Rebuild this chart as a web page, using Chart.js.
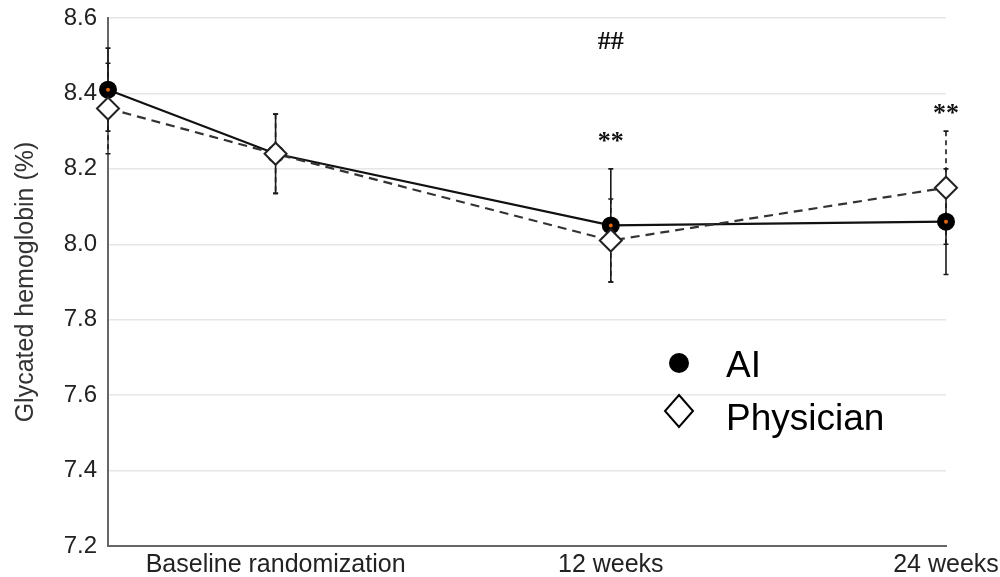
<!DOCTYPE html>
<html>
<head>
<meta charset="utf-8">
<script src="https://cdn.jsdelivr.net/npm/chart.js@4/dist/chart.umd.min.js"></script>
<style>
  html, body { margin: 0; padding: 0; background: #fff; overflow: hidden; }
  #wrap { width: 1000px; height: 577px; position: relative; }
</style>
</head>
<body>
<div id="wrap"><canvas id="hba1c" width="1000" height="577"></canvas></div>
<script>
// weeks relative to randomization
var weeks = [-6, 0, 12, 24];
var xTickWeeks = [0, 12, 24];
var xTickLabels = ["Baseline randomization", "12 weeks", "24 weeks"];

var aiMean = [8.41, 8.24, 8.05, 8.06];
var aiErr = [0.11, 0.105, 0.15, 0.14];
var physMean = [8.36, 8.24, 8.01, 8.15];
var physErr = [0.12, 0.105, 0.11, 0.15];

var seriesNames = ["AI", "Physician"];

// significance marks: [week, y value, text]
var marks = [
	[12, 8.535, "##"],
	[12, 8.28, "**"],
	[24, 8.355, "**"]
];

function toPoints(means) {
	var arr = [];
	for (var i = 0; i < weeks.length; i++) {
		arr.push({x: weeks[i], y: means[i]});
	}
	return arr;
}

/* error bars under the markers */
var errorBars = {
	id: 'errorBars',
	beforeDatasetsDraw: function (chart) {
		var ctx = chart.ctx;
		var xs = chart.scales.x, ys = chart.scales.y;
		var sets = [[aiMean, aiErr, []], [physMean, physErr, [5, 4]]];
		ctx.save();
		ctx.strokeStyle = '#1a1a1a';
		ctx.lineWidth = 1.6;
		for (var s = 0; s < sets.length; s++) {
			for (var i = 0; i < weeks.length; i++) {
				var px = xs.getPixelForValue(weeks[i]);
				var top = ys.getPixelForValue(sets[s][0][i] + sets[s][1][i]);
				var bot = ys.getPixelForValue(sets[s][0][i] - sets[s][1][i]);
				ctx.setLineDash(sets[s][2]);
				ctx.beginPath();
				ctx.moveTo(px, top);
				ctx.lineTo(px, bot);
				ctx.stroke();
				ctx.setLineDash([]);
				ctx.beginPath();
				ctx.moveTo(px - 2.5, top); ctx.lineTo(px + 2.5, top);
				ctx.moveTo(px - 2.5, bot); ctx.lineTo(px + 2.5, bot);
				ctx.stroke();
			}
		}
		ctx.restore();
	}
};

/* ## and ** labels plus the legend inside the plot */
var extras = {
	id: 'extras',
	afterDatasetsDraw: function (chart) {
		var ctx = chart.ctx;
		var xs = chart.scales.x, ys = chart.scales.y;
		ctx.save();
		ctx.fillStyle = '#111';
		ctx.textAlign = 'center';
		ctx.textBaseline = 'middle';
		for (var i = 0; i < marks.length; i++) {
			ctx.font = 'bold 26px "Liberation Serif"';
			ctx.fillText(marks[i][2], xs.getPixelForValue(marks[i][0]), ys.getPixelForValue(marks[i][1]) + (marks[i][2] == "**" ? 4 : 0));
		}

		// legend
		var lx = 679, ly = [363, 411];
		ctx.fillStyle = '#000';
		ctx.beginPath();
		ctx.arc(lx, ly[0], 10, 0, Math.PI * 2);
		ctx.fill();
		ctx.strokeStyle = '#000';
		ctx.lineWidth = 2;
		ctx.beginPath();
		ctx.moveTo(lx, ly[1] - 16);
		ctx.lineTo(lx + 14, ly[1]);
		ctx.lineTo(lx, ly[1] + 16);
		ctx.lineTo(lx - 14, ly[1]);
		ctx.closePath();
		ctx.stroke();
		ctx.font = '37px "Liberation Sans"';
		ctx.textAlign = 'left';
		ctx.textBaseline = 'alphabetic';
		ctx.fillText(seriesNames[0], 726, 377);
		ctx.fillText(seriesNames[1], 726, 430);
		ctx.restore();
	}
};

var chartHb = new Chart(document.getElementById('hba1c').getContext('2d'), {
	type: 'line',
	data: {
		datasets: [{
			label: seriesNames[0],
			data: toPoints(aiMean),
			borderColor: '#111',
			borderWidth: 2.2,
			pointStyle: 'circle',
			pointRadius: 5.5,
			pointBorderWidth: 7,
			pointBorderColor: '#000',
			pointBackgroundColor: '#e0660f',
			clip: false,
			order: 2
		}, {
			label: seriesNames[1],
			data: toPoints(physMean),
			borderColor: '#333',
			borderWidth: 2.2,
			borderDash: [9, 6],
			pointStyle: 'rectRot',
			pointRadius: 11,
			pointBorderWidth: 2,
			pointBorderColor: '#222',
			pointBackgroundColor: '#fff',
			clip: false,
			order: 1
		}]
	},
	options: {
		responsive: false,
		animation: false,
		events: [],
		layout: { padding: { top: 18, right: 54, left: 0, bottom: 0 } },
		plugins: {
			legend: { display: false },
			tooltip: { enabled: false }
		},
		scales: {
			x: {
				type: 'linear',
				min: -6,
				max: 24,
				afterBuildTicks: function (axis) {
					axis.ticks = xTickWeeks.map(function (v) { return {value: v}; });
				},
				afterFit: function (axis) {
					axis.height = 31;
					axis.paddingLeft = 0;
					axis.paddingRight = 0;
				},
				grid: { display: false, drawTicks: false },
				border: { display: true, color: '#666', width: 2 },
				ticks: {
					padding: 4,
					maxRotation: 0,
					autoSkip: false,
					color: '#222',
					font: { family: '"Liberation Sans"', size: 25 },
					callback: function (v) {
						var k = xTickWeeks.indexOf(v);
						return k >= 0 ? xTickLabels[k] : '';
					}
				}
			},
			y: {
				min: 7.2,
				max: 8.6,
				afterFit: function (axis) {
					axis.width = 108;
					axis.paddingTop = 0;
					axis.paddingBottom = 0;
				},
				grid: { color: '#e6e6e6', lineWidth: 1.5, drawTicks: false },
				border: { display: true, color: '#666', width: 2 },
				title: {
					display: true,
					text: 'Glycated hemoglobin (%)',
					color: '#333',
					font: { family: '"Liberation Sans"', size: 25 },
					padding: { top: 11, bottom: 0 }
				},
				ticks: {
					stepSize: 0.2,
					padding: 11,
					color: '#222',
					font: { family: '"Liberation Sans"', size: 24 },
					callback: function (v) { return v.toFixed(1); }
				}
			}
		}
	},
	plugins: [errorBars, extras]
});
</script>
</body>
</html>
